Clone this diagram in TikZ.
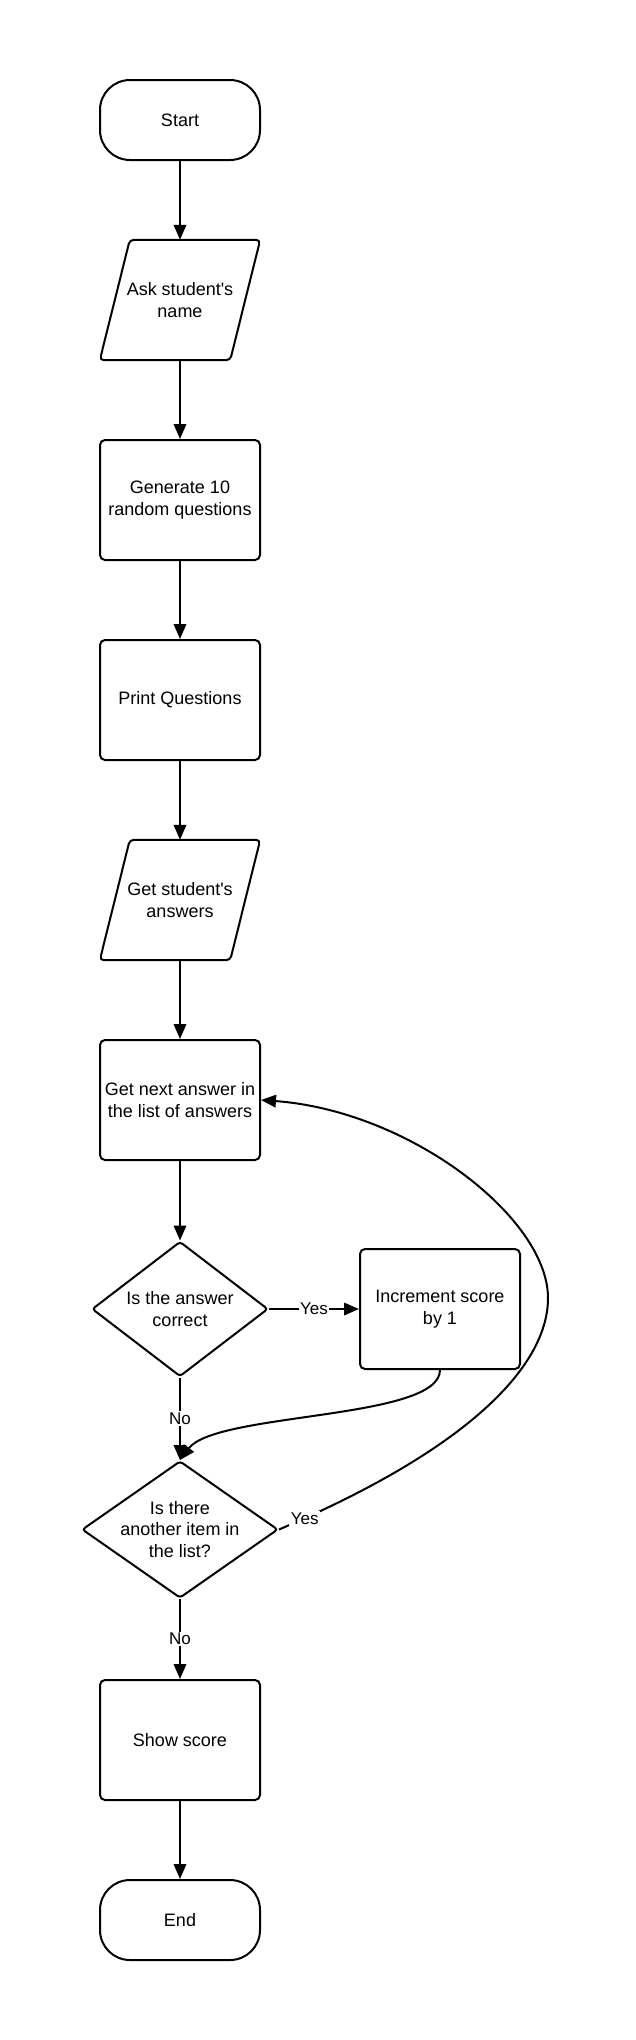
\documentclass[tikz,border=0pt]{standalone}
\usepackage{fontspec}
\newfontfamily\lucid{Liberation Sans}
\usetikzlibrary{arrows.meta,shapes.geometric,calc}
\begin{document}
\begin{tikzpicture}[x=1pt,y=-1pt,
  every node/.style={font=\lucid\fontsize{18pt}{21.5pt}\selectfont},
  shapeline/.style={draw=black, line width=2pt, fill=white},
  outline/.style={draw=black, line width=2pt, line join=round},
  procbox/.style={shapeline, rectangle, rounded corners=5pt, minimum width=160pt, minimum height=120pt, inner sep=0pt, align=center},
  termbox/.style={shapeline, rectangle, rounded corners=30pt, minimum width=160pt, minimum height=80pt, inner sep=0pt},
  iobox/.style={rectangle, minimum width=160pt, minimum height=120pt, inner sep=0pt, align=center},
  diabox/.style={shapeline, diamond, rounded corners=3pt, inner sep=0pt},
  flow/.style={line width=2pt, -{Triangle[length=15pt,width=12.5pt]}},
  lbl/.style={fill=white, inner sep=1.5pt, font=\lucid\fontsize{17pt}{20pt}\selectfont}
]
\useasboundingbox (0,0) rectangle (636,2040);

\node[termbox] (start) at (180,120) {Start};
\node[iobox] (ask) at (180,300) {Ask student's\\name};
\draw[outline, rounded corners=4pt] ($(ask.north west)+(30,0)$) -- (ask.north east) -- ($(ask.south east)-(30,0)$) -- (ask.south west) -- cycle;
\node[procbox] (gen) at (180,500) {Generate 10\\random questions};
\node[procbox] (print) at (180,700) {Print Questions};
\node[iobox] (getans) at (180,900) {Get student's\\answers};
\draw[outline, rounded corners=4pt] ($(getans.north west)+(30,0)$) -- (getans.north east) -- ($(getans.south east)-(30,0)$) -- (getans.south west) -- cycle;
\node[procbox] (next) at (180,1100) {Get next answer in\\the list of answers};
\node[diabox, minimum width=176pt, minimum height=135pt] (d1) at (180,1309) {};
\node[align=center] (d1t) at (d1) {Is the answer\\correct};
\node[procbox] (inc) at (440,1309) {Increment score\\by 1};
\node[diabox, minimum width=196pt, minimum height=137pt] (d2) at (180,1529.5) {};
\node[align=center] (d2t) at (d2) {Is there\\another item in\\the list?};
\node[procbox] (show) at (180,1740) {Show score};
\node[termbox] (end) at (180,1920) {End};

\coordinate (apex) at (548,1298);

\draw[flow] (start) -- (ask);
\draw[flow] (ask) -- (gen);
\draw[flow] (gen) -- (print);
\draw[flow] (print) -- (getans);
\draw[flow] (getans) -- (next);
\draw[flow] (next) -- (d1);
\draw[flow] (d1.east) -- node[lbl]{Yes} (inc.west);
\draw[flow] (d1.south) -- node[lbl]{No} (d2.north);
\draw[flow] (inc.south) .. controls +(0,50) and +(36,-48) .. (d2.north);
\draw[flow] (d2.east) .. controls (475,1446) and (548,1363) .. (apex) node[lbl,pos=0.045]{Yes}
  .. controls (548,1218) and (410,1111) .. (next.east);
\draw[flow] (d2.south) -- node[lbl]{No} (show.north);
\draw[flow] (show) -- (end);
\end{tikzpicture}
\end{document}
